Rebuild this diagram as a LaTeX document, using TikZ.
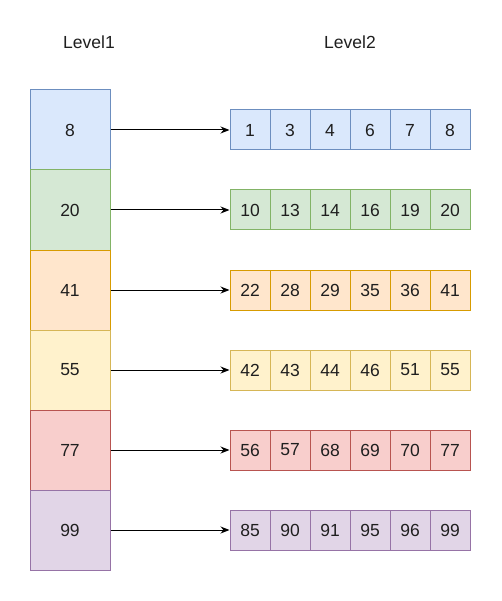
\documentclass[tikz,border=0pt]{standalone}
\usepackage{fontspec}
\setmainfont{Liberation Sans}
\usepackage{xcolor}
\usetikzlibrary{positioning,arrows.meta}

% draw.io kleuren (vulling / rand)
\definecolor{blauwF}{HTML}{DAE8FC}\definecolor{blauwR}{HTML}{6C8EBF}
\definecolor{groenF}{HTML}{D5E8D4}\definecolor{groenR}{HTML}{82B366}
\definecolor{oranjeF}{HTML}{FFE6CC}\definecolor{oranjeR}{HTML}{D79B00}
\definecolor{geelF}{HTML}{FFF2CC}\definecolor{geelR}{HTML}{D6B656}
\definecolor{roodF}{HTML}{F8CECC}\definecolor{roodR}{HTML}{B85450}
\definecolor{paarsF}{HTML}{E1D5E7}\definecolor{paarsR}{HTML}{9673A6}
\definecolor{tekst}{HTML}{1F1F1F}

\begin{document}
\begin{tikzpicture}[x=1pt, y=-1pt,
    lbl/.style={font=\fontsize{17.5}{20}\selectfont, text=tekst},
    blok/.style={draw, line width=1pt, minimum width=80pt, minimum height=80pt,
                 inner sep=0pt, font=\fontsize{17.5}{20}\selectfont, text=tekst},
    cel/.style={draw, line width=1pt, minimum width=40pt, minimum height=40pt,
                inner sep=0pt, font=\fontsize{17.5}{20}\selectfont, text=tekst},
    pijl/.style={line width=1pt, -{Stealth[length=9pt, width=7pt]}}]
    \useasboundingbox (0,0) rectangle (501,601);

    % Koppen
    \node[lbl] (kop1) at (89,42) {Level1};
    \node[lbl] (kop2) at (350,42) {Level2};

    % Level1 blokken, Level2 rijen en pijlen
    \foreach \r/\kl/\sl/\waarde/\rij in {
        0/blauwF/blauwR/8/{1,3,4,6,7,8},
        1/groenF/groenR/20/{10,13,14,16,19,20},
        2/oranjeF/oranjeR/41/{22,28,29,35,36,41},
        3/geelF/geelR/55/{42,43,44,46,51,55},
        4/roodF/roodR/77/{56,57,68,69,70,77},
        5/paarsF/paarsR/99/{85,90,91,95,96,99}} {
        \node[blok, fill=\kl, draw=\sl] (top\r) at (70,130+80*\r) {\waarde};
        \foreach \v [count=\j] in \rij {
            \node[cel, fill=\kl, draw=\sl] (c\r-\j) at (210+40*\j,130+80*\r) {\v};
        }
        \draw[pijl] (top\r.east) -- (c\r-1.west);
    }
\end{tikzpicture}
\end{document}
